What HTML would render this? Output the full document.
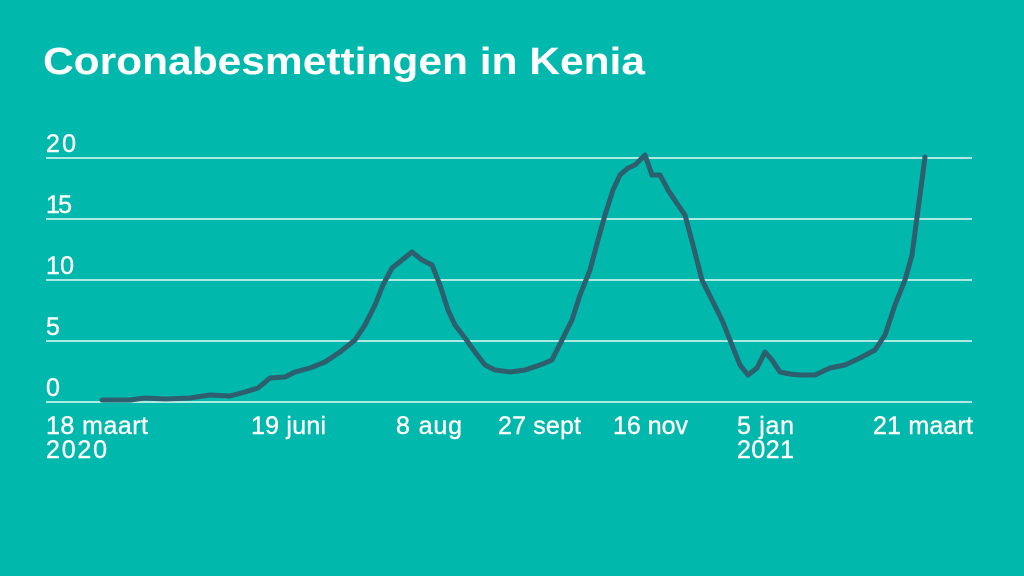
<!DOCTYPE html>
<html><head><meta charset="utf-8"><style>
html,body{margin:0;padding:0;background:#00b9ac;}
svg{display:block}
</style></head><body>
<svg width="1024" height="576" viewBox="0 0 1024 576" xmlns="http://www.w3.org/2000/svg">
<rect width="1024" height="576" fill="#00b9ac"/>
<text x="43" y="74" font-family="Liberation Sans, sans-serif" font-weight="bold" font-size="38" fill="#fff" textLength="602" lengthAdjust="spacingAndGlyphs">Coronabesmettingen in Kenia</text>
<g stroke="#e8f7f5" stroke-width="1.5">
<line x1="46" y1="158" x2="972" y2="158"/>
<line x1="46" y1="219" x2="972" y2="219"/>
<line x1="46" y1="280" x2="972" y2="280"/>
<line x1="46" y1="341" x2="972" y2="341"/>
<line x1="46" y1="402" x2="972" y2="402"/>
</g>
<g font-family="Liberation Sans, sans-serif" font-size="25" fill="#fff" stroke="#fff" stroke-width="0.4" lengthAdjust="spacingAndGlyphs">
<text x="46" y="152" textLength="30">20</text>
<text x="46" y="213" textLength="26">15</text>
<text x="46" y="274" textLength="28">10</text>
<text x="46" y="335">5</text>
<text x="46" y="396">0</text>
<text x="46" y="434" textLength="102">18 maart</text>
<text x="46" y="458" textLength="61">2020</text>
<text x="251" y="434" textLength="75">19 juni</text>
<text x="396" y="434" textLength="66">8 aug</text>
<text x="498" y="434" textLength="83">27 sept</text>
<text x="613" y="434" textLength="75">16 nov</text>
<text x="737" y="434" textLength="57">5 jan</text>
<text x="737" y="458" textLength="57">2021</text>
<text x="873" y="434" textLength="100">21 maart</text>
</g>
<polyline fill="none" stroke="#2d5f6e" stroke-width="5" stroke-linejoin="round" stroke-linecap="round"
points="102,400 130,400 145,398 165,399 190,398 210,395 230,396 245,392 258,388 270,378 285,377 295,372 310,368 325,362 340,352 355,340 365,325 375,305 383,285 392,268 402,260 412,252 422,260 432,265 440,285 448,310 455,325 465,338 475,352 485,365 495,370 510,372 525,370 540,365 552,360 562,340 572,320 580,295 590,270 598,240 605,215 613,190 620,175 628,168 635,165 645,155 652,175 660,175 668,190 678,205 685,215 693,245 702,280 712,300 722,320 732,345 740,365 748,375 757,368 765,352 772,360 780,372 790,374 800,375 815,375 830,368 845,365 860,358 875,350 885,335 895,305 905,280 912,255 920,195 925,157"/>
</svg>
</body></html>
